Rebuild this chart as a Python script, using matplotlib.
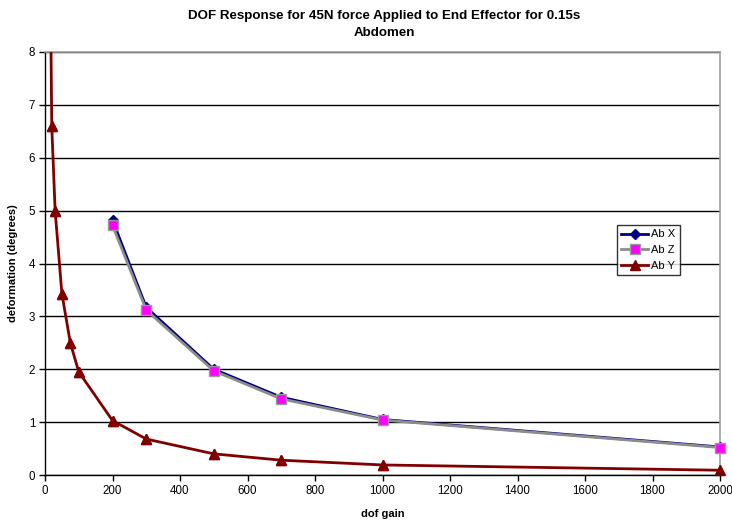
import matplotlib
matplotlib.use("Agg")
import matplotlib.pyplot as plt

plt.rcParams['font.family'] = ['Liberation Sans', 'DejaVu Sans']

# dof gain vs. deformation for each abdomen DOF
gain_xz = [200, 300, 500, 700, 1000, 2000]
ab_x = [4.82, 3.17, 2.00, 1.47, 1.05, 0.53]
ab_z = [4.72, 3.12, 1.97, 1.44, 1.04, 0.52]

gain_y = [10, 20, 30, 50, 75, 100, 200, 300, 500, 700, 1000, 2000]
ab_y = [13.2, 6.6, 5.0, 3.43, 2.5, 1.95, 1.03, 0.68, 0.40, 0.28, 0.19, 0.09]

x_ticks = list(range(0, 2001, 200))
y_ticks = list(range(0, 9))

fig = plt.figure(figsize=(7.32, 5.20), dpi=100)
ax = fig.add_axes([45 / 732, 45 / 520, 675 / 732, 423 / 520])

ax.plot(gain_xz, ab_x, color='#000080', lw=2.0, marker='D', ms=5,
        mfc='#000080', mec='#000080', label='Ab X', zorder=3, clip_on=False)
ax.plot(gain_xz, ab_z, color='#8c8c8c', lw=2.0, marker='s', ms=7,
        mfc='#ff00ff', mec='#999999', mew=1.0, label='Ab Z', zorder=4, clip_on=False)
ax.plot(gain_y, ab_y, color='#800000', lw=2.0, marker='^', ms=7,
        mfc='#800000', mec='#800000', label='Ab Y', zorder=5)
ax.plot(gain_y[1:], ab_y[1:], color='none', marker='^', ms=7,
        mfc='#800000', mec='#800000', zorder=6, clip_on=False)

ax.set_xlim(0, 2000)
ax.set_ylim(0, 8)
ax.set_xticks(x_ticks)
ax.set_yticks(y_ticks)
ax.tick_params(axis='both', labelsize=8.3, direction='out', length=4,
               width=1, colors='black', pad=3)

ax.grid(axis='y', color='black', lw=1.0)
ax.set_axisbelow(True)
for side in ('top', 'right'):
    ax.spines[side].set_color('#a0a0a0')
    ax.spines[side].set_linewidth(1.2)
for side in ('left', 'bottom'):
    ax.spines[side].set_color('black')
    ax.spines[side].set_linewidth(1.0)

ax.set_xlabel('dof gain', fontsize=8, fontweight='bold', labelpad=9)
ax.set_ylabel('deformation (degrees)', fontsize=8, fontweight='bold', labelpad=8)
fig.text(0.525, 1 - 10 / 520, 'DOF Response for 45N force Applied to End Effector for 0.15s\nAbdomen',
         ha='center', va='top', fontsize=9.6, fontweight='bold', linespacing=1.5)

leg = ax.legend(loc='upper left', bbox_to_anchor=((617 - 45) / 675, (475 - 225) / 423),
                fontsize=8, frameon=True, fancybox=False, edgecolor='black',
                handlelength=2.4, handletextpad=0.3, borderpad=0.4,
                labelspacing=0.5, borderaxespad=0)
leg.get_frame().set_linewidth(1.0)

fig.savefig('out.png', dpi=100, facecolor='white')
